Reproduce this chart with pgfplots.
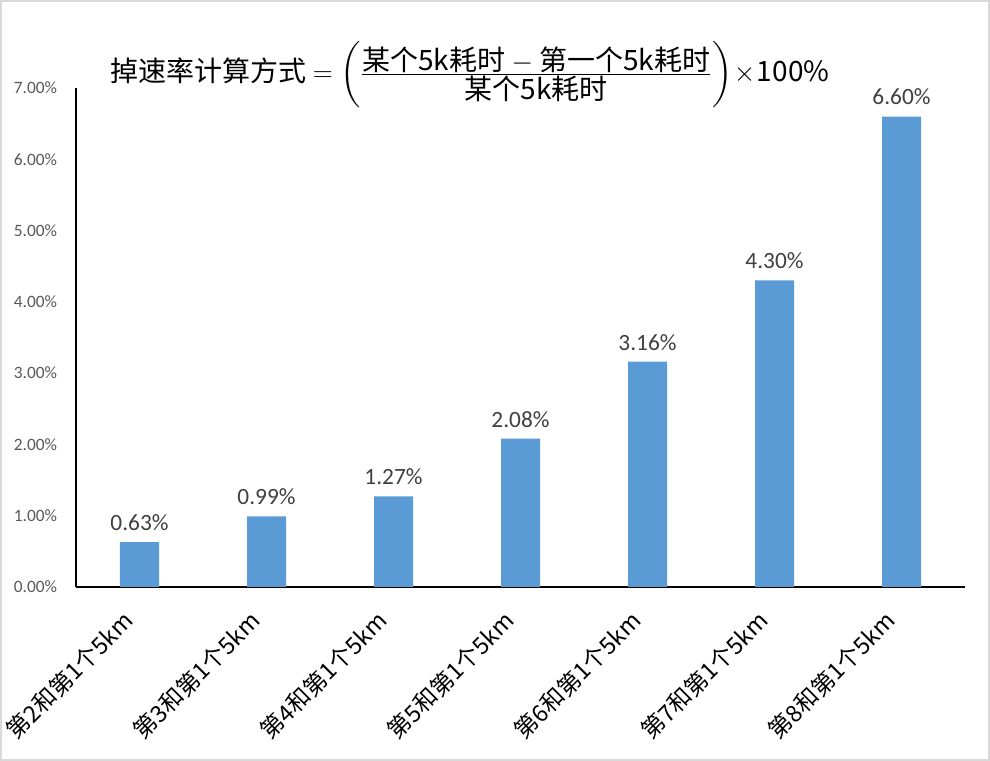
\documentclass[border=0pt]{standalone}
\usepackage{amsmath}
\usepackage{pgfplots}
\pgfplotsset{compat=1.18}
\usepackage{fontspec}
\setmainfont{Carlito}
\newfontfamily\cjk{Noto Sans CJK SC}
\definecolor{barblue}{HTML}{5B9BD5}
\definecolor{ticktext}{HTML}{595959}
\definecolor{labeltext}{HTML}{404040}
\begin{document}
\begin{tikzpicture}
\fill[white] (0,0) rectangle (742.5pt,570.75pt);
\draw[color=black!15, line width=1.5pt] (0.75pt,0.75pt) rectangle (741.75pt,570pt);
\begin{axis}[
  at={(57pt,130.5pt)}, anchor=south west,
  scale only axis, width=666.75pt, height=374.25pt,
  xmin=-0.5, xmax=6.5, ymin=0, ymax=7,
  axis lines*=left,
  axis line style={line width=1.5pt, black},
  major tick length=0pt,
  xtick=data,
  xticklabels={第2和第1个5km,第3和第1个5km,第4和第1个5km,第5和第1个5km,第6和第1个5km,第7和第1个5km,第8和第1个5km},
  xticklabel style={font=\cjk\fontsize{17.5}{19}\selectfont, inner sep=0pt, xshift=-14pt, yshift=-16pt, rotate=45, anchor=north east},
  ytick={0,1,2,3,4,5,6,7},
  yticklabel={\pgfmathprintnumber[fixed,fixed zerofill,precision=2]{\tick}\%},
  yticklabel style={font=\fontsize{13}{15}\selectfont, text=ticktext, inner sep=0pt, anchor=east, xshift=-14pt},
  /pgf/number format/assume math mode=true,
  ybar, bar width=29.25pt,
  nodes near coords={\pgfmathprintnumber[fixed,fixed zerofill,precision=2,assume math mode=true]{\pgfplotspointmeta}\%},
  nodes near coords style={font=\fontsize{17.5}{19}\selectfont, text=labeltext, yshift=5pt},
  clip=false,
]
\addplot[fill=barblue, draw=none] coordinates {(0,0.63) (1,0.99) (2,1.27) (3,2.08) (4,3.16) (5,4.30) (6,6.60)};
\end{axis}
\node[font=\cjk\fontsize{21}{25}\selectfont, text=black] at (352.5pt,515pt)
 {掉速率计算方式 $=\left(\tfrac{\mbox{某个5k耗时 $-$ 第一个5k耗时}}{\mbox{某个5k耗时}}\right)\!\times\!\mbox{100\%}$};
\end{tikzpicture}
\end{document}
